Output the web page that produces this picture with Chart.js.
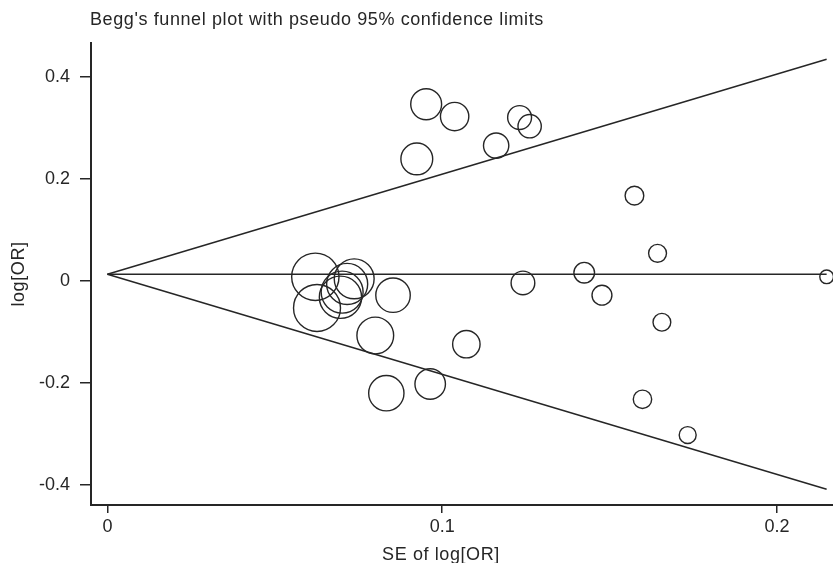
<!DOCTYPE html>
<html>
<head>
<meta charset="utf-8">
<script src="https://cdn.jsdelivr.net/npm/chart.js@4.4.1/dist/chart.umd.min.js"></script>
<style>
  html, body { margin: 0; padding: 0; background: #fff; }
  canvas { display: block; }
</style>
</head>
<body>
<canvas id="funnel" width="833" height="563"></canvas>
<script>
// study values
const seValues = [0.0621, 0.0626, 0.0737, 0.0716, 0.0701, 0.0696, 0.0853, 0.0800, 0.1072, 0.0964,
                  0.0833, 0.0952, 0.1037, 0.0924, 0.1161, 0.1231, 0.1261, 0.1574, 0.1643, 0.1424,
                  0.1241, 0.1477, 0.1656, 0.1598, 0.1733, 0.2148];
const logOrValues = [0.008, -0.053, 0.004, -0.006, -0.022, -0.032, -0.028, -0.107, -0.124, -0.202,
                     -0.220, 0.346, 0.322, 0.239, 0.265, 0.320, 0.303, 0.167, 0.054, 0.016,
                     -0.004, -0.028, -0.081, -0.232, -0.302, 0.008];
const pooledEstimate = 0.013;
const zCrit = 1.96;

const xTicks = [0, 0.1, 0.2];
const xTickLabels = ['0', '0.1', '0.2'];
const yTicks = [-0.4, -0.2, 0, 0.2, 0.4];
const yTickLabels = ['-0.4', '-0.2', '0', '0.2', '0.4'];

const chartTitle = "Begg's funnel plot with pseudo 95% confidence limits";
const xTitle = 'SE of log[OR]';
const yTitle = 'log[OR]';

const ink = '#262626';
const fontFamily = '"Liberation Sans", Arial, sans-serif';

const points = seValues.map((se, i) => ({ x: se, y: logOrValues[i] }));
const maxSE = Math.max(...seValues);

function limitLine(sign) {
  return [
    { x: 0, y: pooledEstimate },
    { x: maxSE, y: pooledEstimate + sign * zCrit * maxSE }
  ];
}

const titlesPlugin = {
  id: 'titles',
  afterDraw(chart) {
    const ctx = chart.ctx;
    const area = chart.chartArea;
    ctx.save();
    ctx.fillStyle = ink;
    ctx.font = '18px ' + fontFamily;
    ctx.letterSpacing = '0.6px';
    ctx.textBaseline = 'alphabetic';
    ctx.textAlign = 'left';
    ctx.fillText(chartTitle, area.left - 1, 25);

    ctx.textAlign = 'center';
    ctx.fillText(xTitle, 441, 560);

    ctx.translate(19, (area.top + area.bottom) / 2);
    ctx.rotate(-Math.PI / 2);
    ctx.textBaseline = 'middle';
    ctx.fillText(yTitle, 0, 0);
    ctx.restore();
  }
};

function lineSet(data) {
  return {
    type: 'line',
    data: data,
    showLine: true,
    borderColor: ink,
    borderWidth: 1.5,
    pointRadius: 0,
    fill: false
  };
}

const ctx = document.getElementById('funnel').getContext('2d');
new Chart(ctx, {
  type: 'scatter',
  data: {
    datasets: [
      lineSet(limitLine(1)),
      lineSet(limitLine(-1)),
      lineSet(limitLine(0)),
      {
        data: points,
        pointStyle: 'circle',
        pointRadius: c => 1.47 / c.raw.x,
        backgroundColor: 'rgba(0,0,0,0)',
        borderColor: ink,
        borderWidth: 1.4,
        clip: false
      }
    ]
  },
  options: {
    responsive: false,
    animation: false,
    events: [],
    layout: { autoPadding: false, padding: { top: 43, left: 0, right: 0, bottom: 0 } },
    plugins: {
      legend: { display: false },
      tooltip: { enabled: false }
    },
    scales: {
      x: {
        type: 'linear',
        min: -0.0049,
        max: 0.2167,
        afterBuildTicks: scale => { scale.ticks = xTicks.map(v => ({ value: v })); },
        afterFit: scale => { scale.height = 58; },
        ticks: {
          color: ink,
          padding: 3,
          maxRotation: 0,
          font: { family: fontFamily, size: 18 },
          callback: v => xTickLabels[xTicks.indexOf(v)]
        },
        grid: { drawOnChartArea: false, drawTicks: true, tickLength: 8, color: ink, lineWidth: 1.5 },
        border: { display: true, color: ink, width: 2 }
      },
      y: {
        type: 'linear',
        min: -0.439,
        max: 0.466,
        afterBuildTicks: scale => { scale.ticks = yTicks.map(v => ({ value: v })); },
        afterFit: scale => { scale.width = 91; },
        ticks: {
          color: ink,
          padding: 10,
          font: { family: fontFamily, size: 18 },
          callback: v => yTickLabels[yTicks.indexOf(v)]
        },
        grid: { drawOnChartArea: false, drawTicks: true, tickLength: 11, color: ink, lineWidth: 1.5 },
        border: { display: true, color: ink, width: 2 }
      }
    }
  },
  plugins: [titlesPlugin]
});
</script>
</body>
</html>
